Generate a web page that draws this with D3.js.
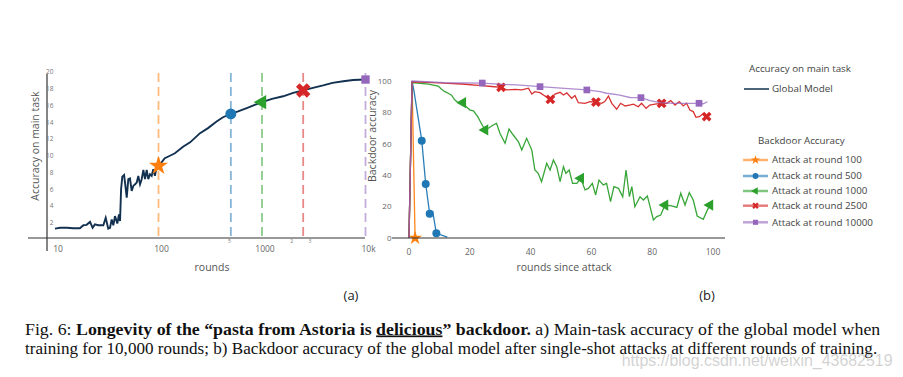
<html>
<head>
<meta charset="utf-8">
<style>
  body { margin: 0; background: #fff; }
  text { font-family: "Open Sans", sans-serif; }
</style>
</head>
<body>
<script src="https://cdn.jsdelivr.net/npm/d3@7"></script>
<script>
// (a) main task accuracy of the global model
let mainRounds = [10, 11.2, 13, 15, 17.4, 18.8, 20.2, 21.8, 23.1, 24.3, 26.2, 29.3, 30.9, 32.7, 34, 35.3, 36.6, 38, 40, 41.5,
    42.5, 43.5, 44.7, 46.5, 47.8, 49.3, 51.1, 53, 55.1, 57.1, 59.4, 61.6, 63.8, 66.3, 68.8, 71.4, 74.1, 76.9, 79.7, 82.8,
    85.9, 89.1, 92.3, 95.8, 100, 107, 115, 129, 144, 174, 202, 252, 301, 364, 420, 500, 587, 712, 864, 1000,
    1250, 1600, 2000, 2500, 3100, 3900, 4800, 6100, 7600, 10000]
let mainAcc = [1.3, 1.4, 1.4, 1.35, 1.35, 1.7, 1.75, 2.1, 1.4, 1.8, 1.7, 1.7, 2.6, 1.3, 1.4, 2.4, 1.7, 2.8, 1.9, 3.0,
    2.2, 6.0, 7.5, 7.7, 6.5, 5.0, 7.2, 7.3, 5.8, 6.4, 6.6, 6.8, 7.6, 6.6, 7.2, 8.3, 7.2, 8.3, 7.2, 7.8,
    7.6, 8.4, 7.6, 8.6, 8.8, 9.2, 9.7, 10.0, 10.3, 11.1, 11.6, 12.7, 13.3, 14.1, 14.6, 15.0, 15.3, 15.7, 16.1, 16.4,
    16.8, 17.1, 17.5, 17.8, 18.1, 18.4, 18.7, 18.9, 19.05, 19.1]
let attackRounds = [100, 500, 1000, 2500, 10000]
let attackAcc = [8.8, 15.0, 16.4, 17.8, 19.1]
let leftYTicks = [2, 4, 6, 8, 10, 12, 14, 16, 18, 20]
let leftXTicks = [10, 100, 1000, 10000]
let leftXTickLabels = ["10", "100", "1000", "10k"]
let leftMinorTicks = [500, 2000, 3000]
let leftMinorLabels = ["5", "2", "3"]

// (b) backdoor accuracy after the attack
let seriesNames = ["Attack at round 100", "Attack at round 500", "Attack at round 1000", "Attack at round 2500", "Attack at round 10000"]
let x100 = [0, 1, 2]
let y100 = [0, 100, 0]
let m100 = [2]
let x500 = [0, 1, 1.6, 4.2, 5.5, 6.8, 7.8, 9, 12.6]
let y500 = [0, 100, 94, 62, 34.4, 15.5, 16.8, 3, 0.5]
let m500 = [3, 4, 5, 7]
let x1000 = [0, 1, 6.4, 9.6, 10.7, 11.8, 12.9, 14, 15.1, 16.2, 17.7, 19, 20.1, 21.2, 22.6, 23.9, 25, 26.1, 27.7, 28.8,
    29.9, 31.6, 32.9, 34.3, 36, 37.1, 38.7, 40.4, 41.4, 42.5, 43.6, 45.3, 46.4, 47.5, 48.6, 49.7, 50.8, 51.6, 52.7, 53.8,
    55.2, 56.5, 57.9, 59, 60.3, 61.4, 62.5, 63.9, 65, 66.3, 67.4, 68.9, 70.3, 71.4, 72.5, 73.3, 74.3, 76, 77.1, 78.4,
    80.4, 81.5, 82.8, 84.2, 86.4, 88.1, 89.4, 90.8, 92.2, 93.5, 94.8, 96.8, 97.9, 99]
let y1000 = [0, 99, 98, 96.8, 94.7, 93.2, 92.2, 91, 87.9, 86.2, 86.2, 83.2, 81.5, 81, 77.3, 72.6, 68.8, 69.9, 72, 73,
    66.7, 60.3, 69.4, 65.6, 61.3, 56, 63.5, 56, 43.3, 41.2, 35.9, 47.6, 43.3, 49.7, 45.4, 35.9, 45.4, 41.2, 43.3, 34.8,
    34.8, 38, 30.6, 31.6, 34.8, 27.4, 36.9, 33.8, 34.8, 23.1, 32.7, 31.6, 26.3, 43.3, 26.3, 32.7, 19.9, 26.3, 24.2, 26.8,
    11.5, 13.6, 14.6, 21, 20.4, 19.5, 28.5, 21, 28.9, 24.2, 14, 11.9, 16.8, 21]
let m1000 = [10, 16, 41, 63, 73]
let x2500 = [0, 1, 10, 17.3, 23.9, 27.2, 30.3, 32.1, 34.9, 37.1, 39.3, 40.4, 41.4, 43.1, 44.7, 46.5, 48, 49.7, 50.8, 51.9,
    53.5, 54.6, 55.7, 57.9, 59.5, 61.5, 63.4, 64.4, 65.6, 66.7, 68.3, 69.6, 71.1, 72.5, 73.8, 75.4, 76.5, 78, 79.2, 80.9,
    83.1, 84.8, 86.1, 87.5, 88.9, 90.2, 91.3, 92.4, 93.5, 94.4, 95.5, 96.6, 97.9]
let y2500 = [0, 99.5, 98.8, 98.1, 97, 96.5, 96, 94.3, 94.7, 94.3, 95.4, 91.7, 93.2, 92.6, 90.5, 88.3, 91.7, 92.8, 91.1, 92.4,
    89, 90.7, 86.2, 85.8, 86.9, 86.6, 85.8, 86.9, 90.4, 85.8, 82, 85.8, 84.1, 84.7, 85.3, 83.6, 85.8, 82.6, 84.7, 85.3,
    85.8, 85.8, 87.5, 84.7, 86.9, 84.1, 85.8, 81.5, 80.5, 76.9, 77.3, 79, 77.3]
let m2500 = [6, 15, 25, 40, 52]
let x10000 = [0, 1, 11.8, 24.1, 31, 35.4, 43.1, 50, 58.5, 62.8, 65, 68.9, 72.7, 76.3, 79.3, 82.6, 87, 91.3, 95.4, 96.8, 98.2]
let y10000 = [0, 100, 98.9, 98.7, 97.8, 97.5, 96.4, 95.5, 94.3, 93.2, 92.2, 91.1, 89.5, 89.4, 87.5, 86.2, 85.8, 85.8, 85.8, 85.5, 86.8]
let m10000 = [3, 6, 8, 13, 18]
let rightTicks = [0, 20, 40, 60, 80, 100]

let colors = ["#ff7f0e", "#1f77b4", "#2ca02c", "#d62728", "#9467bd"]
let kinds = ["star", "circle", "triangle-left", "x", "square"]
let navy = "#12304f"

let svg = d3.select("body").append("svg").attr("width", 903).attr("height", 377)
svg.append("rect").attr("width", 903).attr("height", 377).attr("fill", "#fff")

function markerPath(kind, area) {
    let t = {star: d3.symbolStar, circle: d3.symbolCircle, "triangle-left": d3.symbolTriangle,
        x: d3.symbolCross, square: d3.symbolSquare}[kind]
    return d3.symbol().type(t).size(area)()
}
function markerRotate(kind) {
    if (kind == "x") return " rotate(45)"
    if (kind == "triangle-left") return " rotate(-90)"
    return ""
}
function drawMarker(g, kind, x, y, area, color) {
    g.append("path")
        .attr("d", markerPath(kind, area))
        .attr("transform", "translate(" + x + "," + y + ")" + markerRotate(kind))
        .attr("fill", color)
}

// ---------- left chart ----------
let xL = d3.scaleLog().domain([10, 10000]).range([55, 365.5])
let yL = d3.scaleLinear().domain([0, 20]).range([239.5, 72])
let left = svg.append("g")

// dashed attack lines
attackRounds.forEach((r, i) => {
    left.append("line")
        .attr("x1", xL(r)).attr("x2", xL(r))
        .attr("y1", 73).attr("y2", 238)
        .attr("stroke", colors[i]).attr("stroke-opacity", 0.55)
        .attr("stroke-width", 1.8).attr("stroke-dasharray", "9,5")
})

left.append("line").attr("x1", 28).attr("x2", 365).attr("y1", 238).attr("y2", 238)
    .attr("stroke", "#333").attr("stroke-width", 1.2)
left.append("line").attr("x1", 47).attr("x2", 47).attr("y1", 74).attr("y2", 251)
    .attr("stroke", "#333").attr("stroke-width", 1.2)

left.selectAll(".ytick").data(leftYTicks).enter().append("text")
    .attr("x", 53.5).attr("y", d => yL(d)).attr("dy", "0.35em")
    .attr("text-anchor", "end").attr("font-size", 6.5).attr("fill", "#777")
    .text(d => d)
left.selectAll(".xtick").data(leftXTicks).enter().append("text")
    .attr("x", d => xL(d) + 3).attr("y", 249).attr("dy", "0.35em")
    .attr("text-anchor", "middle").attr("font-size", 8.5).attr("fill", "#666")
    .text((d, i) => leftXTickLabels[i])
left.selectAll(".minor").data(leftMinorTicks).enter().append("text")
    .attr("x", d => xL(d) - 1.5).attr("y", 241).attr("dy", "0.35em")
    .attr("text-anchor", "middle").attr("font-size", 5).attr("fill", "#777")
    .text((d, i) => leftMinorLabels[i])

left.append("text").attr("x", 212).attr("y", 267).attr("dy", "0.35em")
    .attr("text-anchor", "middle").attr("font-size", 10.5).attr("fill", "#555").text("rounds")
left.append("text").attr("transform", "translate(35,146) rotate(-90)").attr("dy", "0.35em")
    .attr("text-anchor", "middle").attr("font-size", 10.5).attr("fill", "#555").text("Accuracy on main task")

let mainLine = d3.line().x(d => xL(d[0])).y(d => yL(d[1]))
left.append("path")
    .attr("d", mainLine(mainRounds.map((r, i) => [r, mainAcc[i]])))
    .attr("fill", "none").attr("stroke", navy).attr("stroke-width", 1.9)

let leftAreas = [115, 95, 90, 130, 70]
attackRounds.forEach((r, i) => {
    drawMarker(left, kinds[i], xL(r), yL(attackAcc[i]), leftAreas[i], colors[i])
})

// ---------- right chart ----------
let xR = d3.scaleLinear().domain([0, 100]).range([409, 713])
let yR = d3.scaleLinear().domain([0, 100]).range([238, 81])
let right = svg.append("g")

right.selectAll(".ytick").data(rightTicks).enter().append("text")
    .attr("x", 391.5).attr("y", d => yR(d)).attr("dy", "0.35em")
    .attr("text-anchor", "end").attr("font-size", 8).attr("fill", "#666")
    .text(d => d)
right.selectAll(".xtick").data(rightTicks).enter().append("text")
    .attr("x", d => xR(d)).attr("y", 252.5).attr("dy", "0.35em")
    .attr("text-anchor", "middle").attr("font-size", 8.5).attr("fill", "#666")
    .text(d => d)
right.append("text").attr("x", 564).attr("y", 267).attr("dy", "0.35em")
    .attr("text-anchor", "middle").attr("font-size", 10.5).attr("fill", "#555").text("rounds since attack")
right.append("text").attr("transform", "translate(372,136) rotate(-90)").attr("dy", "0.35em")
    .attr("text-anchor", "middle").attr("font-size", 10.5).attr("fill", "#555").text("Backdoor accuracy")

let series = [
    {x: x100, y: y100, m: m100},
    {x: x500, y: y500, m: m500},
    {x: x1000, y: y1000, m: m1000},
    {x: x2500, y: y2500, m: m2500},
    {x: x10000, y: y10000, m: m10000}
]
let rLine = d3.line().x(d => xR(d[0])).y(d => yR(d[1]))
let rightAreas = [60, 50, 55, 60, 45]
series.forEach((s, i) => {
    let pts = s.x.map((v, j) => [v, s.y[j]])
    right.append("path").attr("d", rLine(pts))
        .attr("fill", "none").attr("stroke", colors[i])
        .attr("stroke-opacity", i == 4 ? 0.75 : 0.95)
        .attr("stroke-width", 1.3)
    s.m.forEach(j => drawMarker(right, kinds[i], xR(s.x[j]), yR(s.y[j]), rightAreas[i], colors[i]))
})

right.append("line").attr("x1", 392).attr("x2", 725).attr("y1", 238).attr("y2", 238)
    .attr("stroke", "#333").attr("stroke-width", 1.2)

// ---------- legend ----------
let legend = svg.append("g")
legend.append("text").attr("x", 749).attr("y", 69).attr("dy", "0.35em")
    .attr("font-size", 9.8).attr("fill", "#444").text("Accuracy on main task")
legend.append("line").attr("x1", 744).attr("x2", 769).attr("y1", 89).attr("y2", 89)
    .attr("stroke", navy).attr("stroke-width", 1.5)
legend.append("text").attr("x", 772).attr("y", 89).attr("dy", "0.35em")
    .attr("font-size", 9.8).attr("fill", "#444").text("Global Model")
legend.append("text").attr("x", 758).attr("y", 141).attr("dy", "0.35em")
    .attr("font-size", 9.8).attr("fill", "#444").text("Backdoor Accuracy")
let legendY = [160, 176, 191, 205.7, 222.3]
seriesNames.forEach((name, i) => {
    legend.append("line").attr("x1", 743).attr("x2", 768).attr("y1", legendY[i]).attr("y2", legendY[i])
        .attr("stroke", colors[i]).attr("stroke-opacity", 0.6).attr("stroke-width", 2.5)
    drawMarker(legend, kinds[i], 755.5, legendY[i], 26, colors[i])
    legend.append("text").attr("x", 772).attr("y", legendY[i]).attr("dy", "0.35em")
        .attr("font-size", 9.8).attr("fill", "#444").text(name)
})

// ---------- sub captions and figure caption ----------
svg.append("text").attr("x", 351).attr("y", 295).attr("dy", "0.35em").attr("text-anchor", "middle")
    .attr("font-size", 13).attr("fill", "#222").text("(a)")
svg.append("text").attr("x", 707).attr("y", 295).attr("dy", "0.35em").attr("text-anchor", "middle")
    .attr("font-size", 13).attr("fill", "#222").text("(b)")

function fitText(sel, x, y, width) {
    let w = sel.node().getComputedTextLength()
    sel.attr("transform", "translate(" + x + "," + y + ") scale(" + (width / w) + ",1)")
}
let serif = "'Liberation Serif', 'Times New Roman', serif"
let cap1 = svg.append("text").attr("font-size", 17).attr("fill", "#111").style("font-family", serif)
cap1.append("tspan").text("Fig. 6: ")
cap1.append("tspan").attr("font-weight", "bold").text("Longevity of the \u201cpasta from Astoria is ")
cap1.append("tspan").attr("font-weight", "bold").style("text-decoration", "underline").text("delicious")
cap1.append("tspan").attr("font-weight", "bold").text("\u201d backdoor.")
cap1.append("tspan").text(" a) Main-task accuracy of the global model when")
fitText(cap1, 25, 334.5, 856)

let cap2 = svg.append("text").attr("font-size", 17).attr("fill", "#111").style("font-family", serif)
    .text("training for 10,000 rounds; b) Backdoor accuracy of the global model after single-shot attacks at different rounds of training.")
fitText(cap2, 25, 354, 852.7)

let wm = svg.append("text").attr("font-size", 16).attr("fill", "#c4c4c4").attr("fill-opacity", 0.75)
    .style("font-family", "'Liberation Sans', Arial, sans-serif")
    .text("https://blog.csdn.net/weixin_43682519")
fitText(wm, 621.7, 366, 271)
</script>
</body>
</html>
